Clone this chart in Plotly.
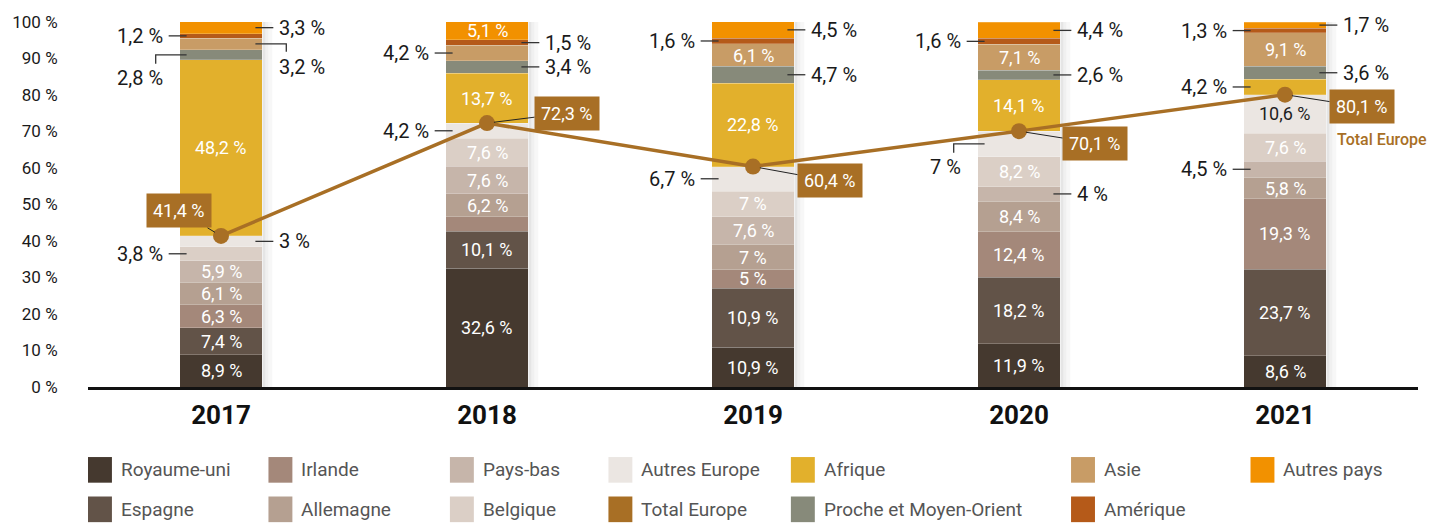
import plotly.graph_objects as go

# ---------------- data ----------------
years = ["2017", "2018", "2019", "2020", "2021"]

series_names = ["Royaume-uni", "Espagne", "Irlande", "Allemagne", "Pays-bas", "Belgique",
                "Autres Europe", "Afrique", "Proche et Moyen-Orient", "Asie", "Amérique", "Autres pays"]

royaume_uni = [8.9, 32.6, 10.9, 11.9, 8.6]
espagne = [7.4, 10.1, 16.2, 18.2, 23.7]          # 2019 segment height as drawn
espagne_printed = [7.4, 10.1, 10.9, 18.2, 23.7]  # value printed on the chart
irlande = [6.3, 4.0, 5.0, 12.4, 19.3]
allemagne = [6.1, 6.2, 7.0, 8.4, 5.8]
pays_bas = [5.9, 7.6, 7.6, 4.0, 4.5]
belgique = [3.8, 7.6, 7.0, 8.2, 7.6]
autres_europe = [3.0, 4.2, 6.7, 7.0, 10.6]
afrique = [48.2, 13.7, 22.8, 14.1, 4.2]
proche_orient = [2.8, 3.4, 4.7, 2.6, 3.6]
asie = [3.2, 4.2, 6.1, 7.1, 9.1]
amerique = [1.2, 1.5, 1.6, 1.6, 1.3]
autres_pays = [3.3, 5.1, 4.5, 4.4, 1.7]
total_europe = [41.4, 72.3, 60.4, 70.1, 80.1]

y_ticks = [0, 10, 20, 30, 40, 50, 60, 70, 80, 90, 100]

# ---------------- styles ----------------
colors = {
    "Royaume-uni": "#45392f",
    "Espagne": "#625348",
    "Irlande": "#a4887a",
    "Allemagne": "#b5a091",
    "Pays-bas": "#c6b5aa",
    "Belgique": "#dbcfc6",
    "Autres Europe": "#ebe6e2",
    "Afrique": "#e2b02c",
    "Proche et Moyen-Orient": "#878a7a",
    "Asie": "#c89c66",
    "Amérique": "#b55a19",
    "Autres pays": "#f29100",
    "Total Europe": "#a86f25",
}

values = {
    "Royaume-uni": royaume_uni, "Espagne": espagne, "Irlande": irlande,
    "Allemagne": allemagne, "Pays-bas": pays_bas, "Belgique": belgique,
    "Autres Europe": autres_europe, "Afrique": afrique,
    "Proche et Moyen-Orient": proche_orient, "Asie": asie,
    "Amérique": amerique, "Autres pays": autres_pays,
}
printed = dict(values)
printed["Espagne"] = espagne_printed

# label placement: in / dark / L / R / LE / RE / None
placement = {
    "Royaume-uni": ["in", "in", "in", "in", "in"],
    "Espagne": ["in", "in", "in", "in", "in"],
    "Irlande": ["in", None, "in", "in", "in"],
    "Allemagne": ["in", "in", "in", "in", "in"],
    "Pays-bas": ["in", "in", "in", "R", "L"],
    "Belgique": ["L", "in", "in", "in", "in"],
    "Autres Europe": ["R", "L", "L", "LE", "dark"],
    "Afrique": ["in", "in", "in", "in", "L"],
    "Proche et Moyen-Orient": ["LE", "R", "R", "R", "R"],
    "Asie": ["RE", "L", "in", "in", "in"],
    "Amérique": ["L", "R", "L", "L", "L"],
    "Autres pays": ["R", "in", "R", "R", "R"],
}

FONT = "Roboto, Arial, sans-serif"
W_PX, H_PX = 1442, 524
ML, MR, MT, MB = 84, 24, 17, 137
PLOT_W = W_PX - ML - MR
PLOT_H = H_PX - MT - MB
XR = (-0.5, len(years) - 0.5)
PXX = PLOT_W / (XR[1] - XR[0])
PXY = PLOT_H / 100.0
BW = 83 / PXX


def fmt(v):
    s = ("%.1f" % v).rstrip("0").rstrip(".")
    return s.replace(".", ",") + " %"


xs = list(range(len(years)))
fig = go.Figure()

for name in series_names:
    fig.add_trace(go.Bar(
        x=xs, y=values[name], width=BW, name=name,
        marker=dict(color=colors[name], line=dict(width=0.6, color="rgba(255,255,255,0.35)")),
        hoverinfo="skip", showlegend=False,
    ))

fig.add_trace(go.Scatter(
    x=xs, y=total_europe, mode="lines+markers", name="Total Europe",
    line=dict(color=colors["Total Europe"], width=3.5),
    marker=dict(size=16, color=colors["Total Europe"]),
    hoverinfo="skip", showlegend=False,
))

annotations = []
shapes = []

# bar shadows
for i in xs:
    for a, b, al in [(0, 3, 0.10), (3, 6, 0.06), (6, 10, 0.03)]:
        shapes.append(dict(type="rect", xref="x", yref="y", layer="below",
                           x0=i + BW / 2 + a / PXX, x1=i + BW / 2 + b / PXX, y0=0, y1=100,
                           line=dict(width=0), fillcolor="rgba(0,0,0,%s)" % al))

# segment labels
base = [0.0] * len(years)
for name in series_names:
    vals = values[name]
    for i in xs:
        v = vals[i]
        mid = base[i] + v / 2
        mode = placement[name][i]
        txt = fmt(printed[name][i])
        left = i - BW / 2
        right = i + BW / 2
        if mode in ("in", "dark"):
            annotations.append(dict(x=i, y=mid, xref="x", yref="y", text=txt, showarrow=False,
                                    font=dict(family=FONT, size=18,
                                              color="#1e1e1e" if mode == "dark" else "white")))
        elif mode in ("L", "LE"):
            elbow = mode == "LE"
            x_end = left - (24 if elbow else 11) / PXX
            path = "M %f,%f L %f,%f" % (left + 7 / PXX, mid, x_end, mid)
            if elbow:
                path += " L %f,%f" % (x_end, mid - 9 / PXY)
            shapes.append(dict(type="path", xref="x", yref="y", path=path, layer="above",
                               line=dict(color="#333333", width=1.3)))
            annotations.append(dict(x=left, y=mid, xref="x", yref="y", text=txt, showarrow=False,
                                    xanchor="right", yanchor="middle", xshift=-15,
                                    yshift=-23 if elbow else 0,
                                    font=dict(family=FONT, size=20, color="#1a1a1a")))
        elif mode in ("R", "RE"):
            elbow = mode == "RE"
            x_end = right + (24 if elbow else 11) / PXX
            path = "M %f,%f L %f,%f" % (right - 7 / PXX, mid, x_end, mid)
            if elbow:
                path += " L %f,%f" % (x_end, mid - 8 / PXY)
            shapes.append(dict(type="path", xref="x", yref="y", path=path, layer="above",
                               line=dict(color="#333333", width=1.3)))
            annotations.append(dict(x=right, y=mid, xref="x", yref="y", text=txt, showarrow=False,
                                    xanchor="left", yanchor="middle", xshift=15,
                                    yshift=-23 if elbow else 0,
                                    font=dict(family=FONT, size=20, color="#1a1a1a")))
        base[i] += v

# total Europe value boxes
box_offsets = [(-42, -25), (80, -10), (77, 14), (76, 12), (77, 12)]
for i in xs:
    ax, ay = box_offsets[i]
    annotations.append(dict(x=i, y=total_europe[i], xref="x", yref="y", text=fmt(total_europe[i]),
                            showarrow=True, arrowhead=0, arrowwidth=1, arrowcolor="#222222",
                            ax=ax, ay=ay, standoff=7, bgcolor=colors["Total Europe"], borderpad=6,
                            font=dict(family=FONT, size=18, color="white")))
annotations.append(dict(x=xs[-1], y=total_europe[-1], xref="x", yref="y", text="Total Europe",
                        showarrow=False, xshift=97, yshift=-45,
                        font=dict(family=FONT, size=16, color=colors["Total Europe"], weight=500)))

# manual legend
legend_rows = [
    ["Royaume-uni", "Irlande", "Pays-bas", "Autres Europe", "Afrique", "Asie", "Autres pays"],
    ["Espagne", "Allemagne", "Belgique", "Total Europe", "Proche et Moyen-Orient", "Amérique"],
]
legend_cols = [84, 265, 447, 606, 789, 1070, 1250]
legend_row_y = [471, 511]


def px_to_paper_x(px):
    return (px - ML) / PLOT_W


def px_to_paper_y(py):
    return (H_PX - MB - py) / PLOT_H


for r, row in enumerate(legend_rows):
    cy = legend_row_y[r]
    for c, name in enumerate(row):
        x0 = legend_cols[c]
        shapes.append(dict(type="rect", xref="paper", yref="paper",
                           x0=px_to_paper_x(x0), x1=px_to_paper_x(x0 + 24),
                           y0=px_to_paper_y(cy + 13), y1=px_to_paper_y(cy - 13),
                           line=dict(width=0), fillcolor=colors[name]))
        annotations.append(dict(x=px_to_paper_x(x0 + 31), y=px_to_paper_y(cy), xref="paper", yref="paper",
                                text=name, showarrow=False, xanchor="left", yanchor="middle",
                                font=dict(family=FONT, size=19, color="#555555")))

fig.update_layout(
    barmode="stack",
    width=W_PX, height=H_PX, autosize=False,
    margin=dict(l=ML, r=MR, t=MT, b=MB, pad=0),
    paper_bgcolor="white", plot_bgcolor="white",
    showlegend=False,
    annotations=annotations, shapes=shapes,
    font=dict(family=FONT),
    xaxis=dict(range=list(XR), tickmode="array", tickvals=xs, ticktext=years,
               showgrid=False, zeroline=False, showline=True, linecolor="#111111", linewidth=2.5,
               ticks="outside", ticklen=3, tickcolor="rgba(0,0,0,0)",
               tickfont=dict(family=FONT, size=26, color="#111111", weight=700)),
    yaxis=dict(range=[0, 100], tickmode="array", tickvals=y_ticks,
               ticktext=[fmt(t) for t in y_ticks],
               showgrid=False, zeroline=False, showline=False,
               ticks="outside", ticklen=26, tickcolor="rgba(0,0,0,0)",
               tickfont=dict(family=FONT, size=17, color="#1a1a1a")),
)

fig.write_html("out.html", config={"displayModeBar": False},
               post_script="document.body.style.margin='0';document.body.style.overflow='hidden';")
